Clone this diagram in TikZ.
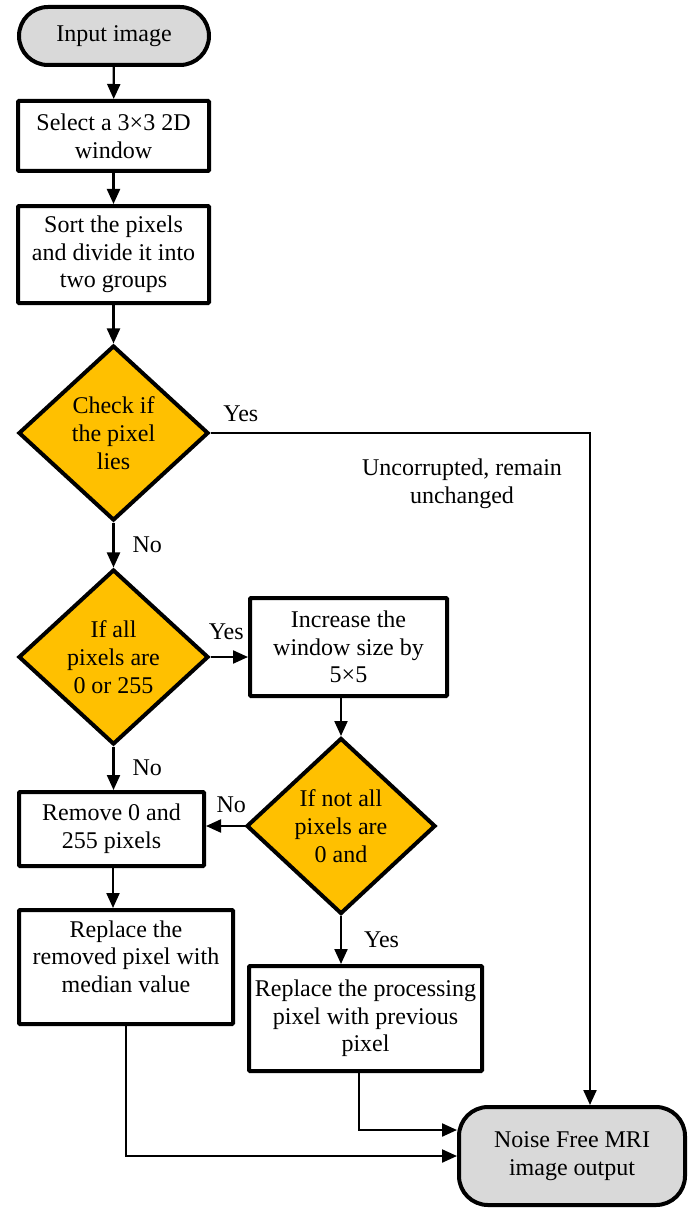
\documentclass[tikz,border=0pt]{standalone}
\usepackage{fontspec}
\setmainfont{Liberation Serif}
\usepackage{tikz}
\usetikzlibrary{
  arrows.meta,
  positioning,
  shapes.geometric,
  calc
}
\definecolor{termgray}{HTML}{D9D9D9}
\definecolor{decgold}{HTML}{FFC000}

\begin{document}
\begin{tikzpicture}[
    x=1pt, y=-1pt,
    font=\fontsize{24}{27.7}\selectfont,
    term/.style={draw, line width=4pt, fill=termgray, rounded corners=29pt,
                 align=center},
    proc/.style={draw, line width=4pt, fill=white, rounded corners=1pt,
                 align=center, inner sep=0pt},
    decision/.style={diamond, draw, line width=4pt, fill=decgold,
                     align=center, inner sep=0pt},
    flow/.style={-{Triangle[length=15pt,width=13pt]}, line width=2.2pt},
    lbl/.style={inner sep=0pt},
  ]
  \useasboundingbox (0,0) rectangle (694,1209);

  % Start / end
  \node[term, minimum width=190pt, minimum height=58pt] (in) at (114,36)
    {Input image};
  \node[term, minimum width=226pt, minimum height=98pt] (out) at (572,1156)
    {Noise Free MRI\\image output};

  % Main column
  \node[proc, minimum width=191pt, minimum height=70pt] (sel) at (113.5,136)
    {Select a 3×3 2D\\window};
  \node[proc, minimum width=191pt, minimum height=97pt] (sort) at (113.5,254.5)
    {Sort the pixels\\and divide it into\\two groups};
  \node[decision, minimum width=190pt, minimum height=175pt] (chk) at (113.5,433)
    {Check if\\the pixel\\lies};
  \node[decision, minimum width=190pt, minimum height=175pt] (all) at (113.5,657)
    {If all\\pixels are\\0 or 255};
  \node[proc, minimum width=185pt, minimum height=74pt] (rem) at (111.5,829)
    {Remove 0 and\\255 pixels};
  \node[proc, minimum width=214pt, minimum height=114pt] (med) at (126,967)
    {Replace the\\removed pixel with\\median value\\[-7pt]\mbox{}};

  % Right branch
  \node[proc, minimum width=197pt, minimum height=98pt] (inc) at (348.5,647)
    {Increase the\\window size by\\5×5};
  \node[decision, minimum width=189pt, minimum height=176pt] (notall) at (341,826)
    {If not all\\pixels are\\0 and};
  \node[proc, minimum width=233pt, minimum height=105pt] (prev) at (365.5,1018.5)
    {Replace the processing\\pixel with previous\\pixel};

  % Note
  \node[align=center] (unc) at (462,484) {Uncorrupted, remain\\unchanged};

  % Connectors
  \draw[flow] (in) -- (sel);
  \draw[flow] (sel) -- (sort);
  \draw[flow] (sort) -- (chk);
  \draw[flow] (chk) -- node[lbl, right=18pt] {No} (all);
  \draw[flow] (chk.east) -| node[lbl, above, pos=0.04, yshift=10pt] {Yes}
    ([xshift=18pt]out.north);
  \draw[flow] (all.east) -- node[lbl, above, yshift=16pt, xshift=-3pt] {Yes}
    (all.east -| inc.west);
  \draw[flow] (all.south) -- node[lbl, right=18pt] {No}
    (all.south |- rem.north);
  \draw[flow] (inc.south -| notall.north) -- (notall.north);
  \draw[flow] (notall.west) -- node[lbl, above, yshift=12pt, xshift=6pt] {No}
    (notall.west -| rem.east);
  \draw[flow] (notall.south) -- node[lbl, right=22pt] {Yes}
    (notall.south |- prev.north);
  \draw[flow] ([xshift=1.5pt]rem.south) -- ([xshift=1.5pt]rem.south |- med.north);
  \draw[flow] (med.south) |- (out.west);
  \draw[flow] ([xshift=-6.5pt]prev.south) |- ([yshift=26pt]out.west);

\end{tikzpicture}
\end{document}
